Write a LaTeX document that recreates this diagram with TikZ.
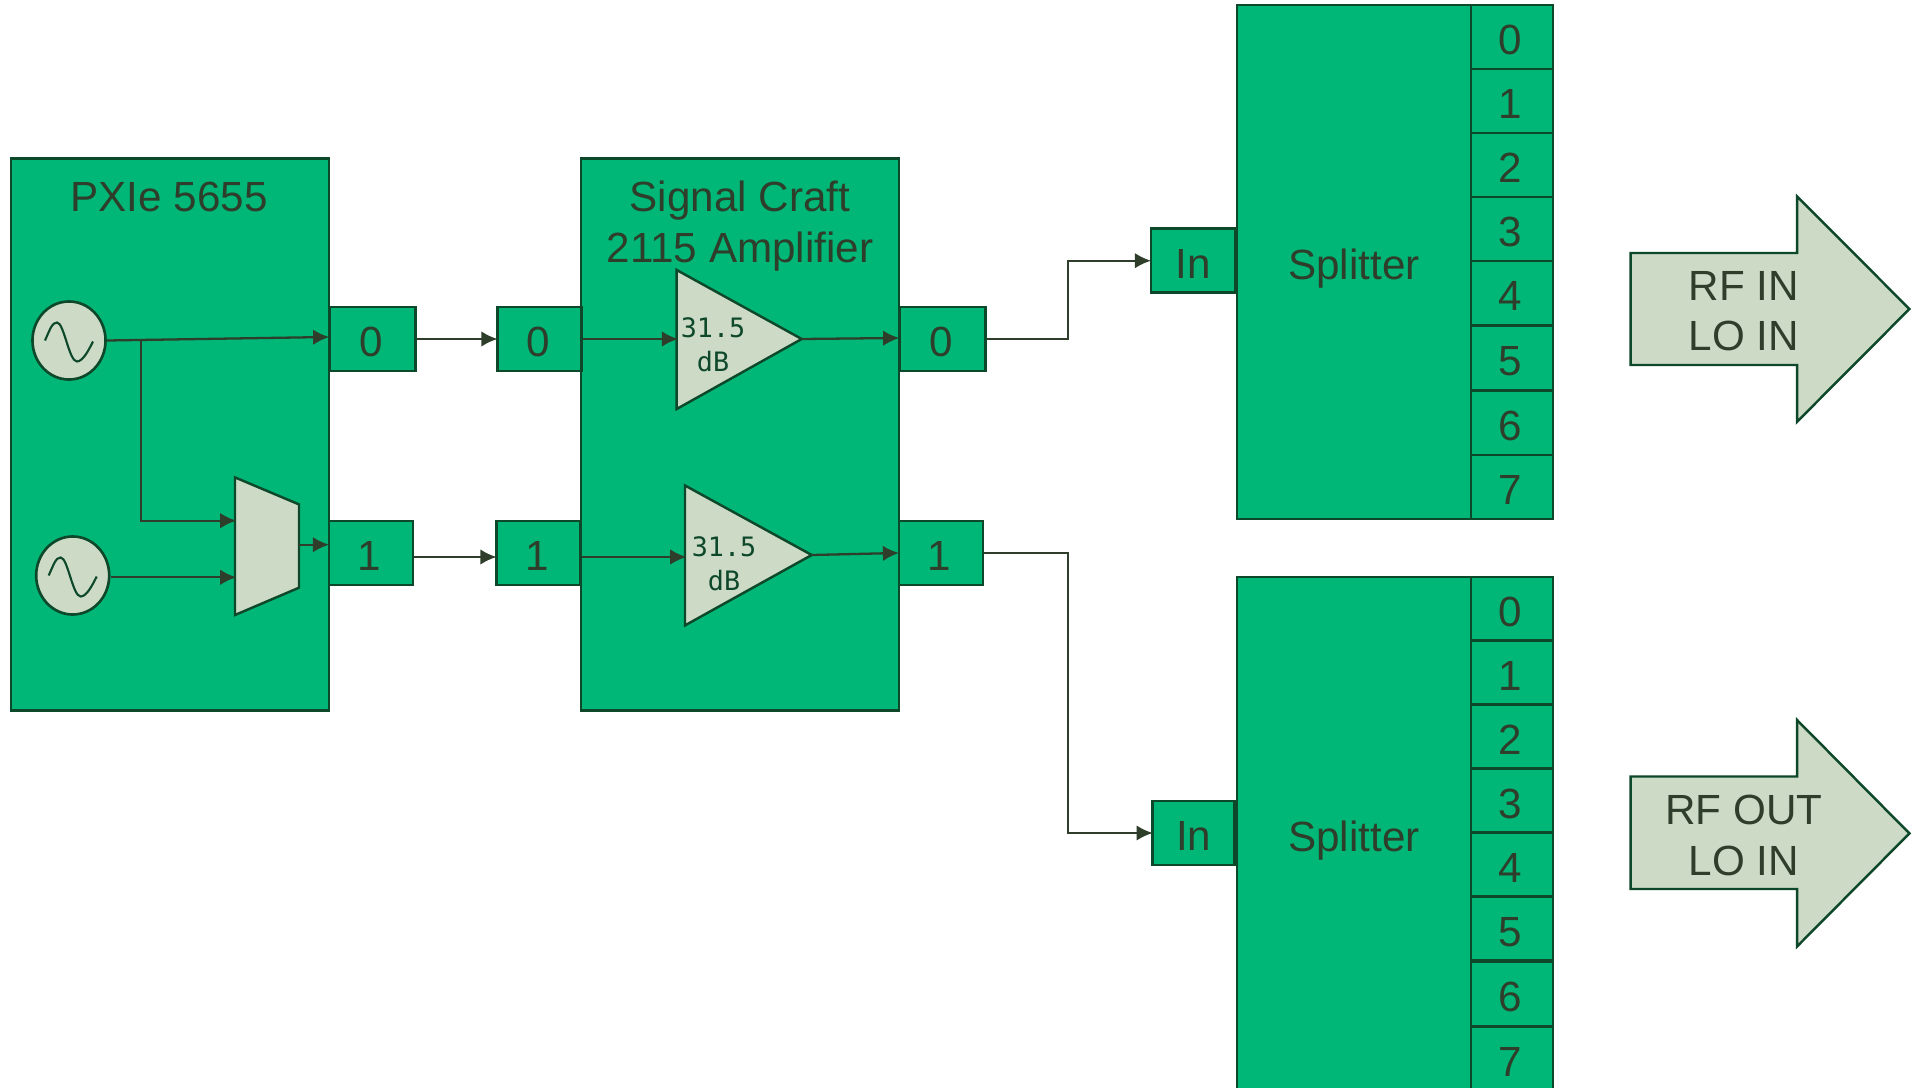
\documentclass[tikz,border=0pt]{standalone}
\usepackage{fontspec}
\setmainfont{Liberation Sans}
\newfontfamily\gainfont{DejaVu Sans Mono}
\usepackage{tikz}
\usetikzlibrary{arrows.meta,shapes.geometric}
\definecolor{blockgreen}{RGB}{0,183,120}
\definecolor{linegreen}{RGB}{14,72,42}
\definecolor{palegreen}{RGB}{204,218,198}
\definecolor{inkgreen}{RGB}{46,62,42}
\tikzstyle{block}=[draw=linegreen,fill=blockgreen,line width=.75pt,text=inkgreen,inner sep=0pt,font=\fontsize{12}{14.3}\selectfont,text height=10.2pt,text depth=0pt]
\tikzstyle{inport}=[block,minimum height=.64cm]
\tikzstyle{port}=[inport,minimum width=.84cm,execute at begin node=\hspace*{-1pt}]
\tikzstyle{rowport}=[port,minimum width=.82cm]
\tikzstyle{osc}=[ellipse,draw=linegreen,fill=palegreen,line width=.75pt,minimum width=.73cm,minimum height=.78cm,inner sep=0pt]
\tikzstyle{pale}=[draw=linegreen,fill=palegreen,line width=.7pt]
\tikzstyle{title}=[text=inkgreen,inner sep=0pt,align=center,font=\fontsize{12}{14.3}\selectfont]
\tikzstyle{gain}=[text=linegreen,inner sep=0pt,align=center,font=\gainfont\fontsize{7.6}{9.8}\selectfont]
\tikzstyle{edge}=[draw=inkgreen,line width=.65pt,shorten >=-.4pt,-{Latex[length=4.6pt,width=4.4pt]}]
\tikzstyle{wave}=[draw=linegreen,line width=.6pt]

\begin{document}
\begin{tikzpicture}[x=0.01cm,y=-0.01cm]
      \useasboundingbox (0,0) rectangle (1921,1088);
      % signal generator
      \node[block,minimum width=3.18cm,minimum height=5.515cm] (pxie) at (170,434.7) {};
      \node[title] (pxietitle) at (169,197) {PXIe 5655};
      \node[port,minimum width=.865cm] (pxiezero) at (372.5,339) {0};
      \node[port] (pxieone) at (371,553) {1};
      \node[osc] (osca) at (69,340.5) {};
      \node[osc] (oscb) at (72.7,575.5) {};
      \draw[wave,shift={(osca.center)}] (-24,0) .. controls (-19,-11) and (-17,-18) .. (-12,-18) .. controls (-5,-18) and (0,21) .. (8,21) .. controls (14,21) and (20,9) .. (24,1);
      \draw[wave,shift={(oscb.center)}] (-24,0) .. controls (-19,-11) and (-17,-18) .. (-12,-18) .. controls (-5,-18) and (0,21) .. (8,21) .. controls (14,21) and (20,9) .. (24,1);
      \coordinate (muxtop) at (235,520.7);
      \coordinate (muxlow) at (235,577.3);
      \coordinate (muxout) at (299,544.7);
      \coordinate (branch) at (141,340.3);
      \draw[pale] (235,477.4) -- (299,504.4) -- (299,587.7) -- (235,615) -- cycle;
      % amplifier
      \node[block,minimum width=3.18cm,minimum height=5.515cm] (amp) at (740,434.7) {};
      \node[title] (amptitle) at (740,226) {Signal Craft\\2115 Amplifier};
      \node[port] (ampinzero) at (539.5,339) {0};
      \node[port] (ampinone) at (538.5,553) {1};
      \node[port,minimum width=.865cm] (ampoutzero) at (942.5,339) {0};
      \node[port] (ampoutone) at (941,553) {1};
      \coordinate (trianglea) at (676.7,339);
      \coordinate (tipa) at (801.7,339);
      \coordinate (triangleb) at (685,557);
      \coordinate (tipb) at (811.7,555);
      \coordinate (linkone) at (455,557);
      \draw[pale] (676.7,270) -- (tipa) -- (676.7,409) -- cycle;
      \draw[pale] (685,485.5) -- (tipb) -- (685,625.4) -- cycle;
      \node[gain] (gaina) at (713,345) {31.5\\dB};
      \node[gain] (gainb) at (724,564) {31.5\\dB};
      % first splitter
      \node[block,minimum width=2.34cm,minimum height=5.14cm] (splita) at (1354,262) {Splitter};
      \node[inport,minimum width=.84cm] (inputa) at (1193,260.7) {In};
      \node[rowport] (splitazero) at (1512,37) {0};
      \node[rowport] (splitaone) at (1512,101) {1};
      \node[rowport] (splitatwo) at (1512,165) {2};
      \node[rowport] (splitathree) at (1512,229) {3};
      \node[rowport] (splitafour) at (1512,293) {4};
      \node[rowport] (splitafive) at (1512,358) {5};
      \node[rowport] (splitasix) at (1512,423) {6};
      \node[rowport] (splitaseven) at (1512,487) {7};
      % second splitter
      \node[block,minimum width=2.34cm,minimum height=5.14cm] (splitb) at (1354,834) {Splitter};
      \node[inport,minimum width=.82cm] (inputb) at (1193.7,833) {In};
      \node[rowport] (splitbzero) at (1512,608.9) {0};
      \node[rowport] (splitbone) at (1512,672.8) {1};
      \node[rowport] (splitbtwo) at (1512,736.8) {2};
      \node[rowport] (splitbthree) at (1512,800.4) {3};
      \node[rowport] (splitbfour) at (1512,864.4) {4};
      \node[rowport] (splitbfive) at (1512,928.7) {5};
      \node[rowport] (splitbsix) at (1512,993.9) {6};
      \node[rowport] (splitbseven) at (1512,1059) {7};
      % block arrows
      \draw[pale] (1630.5,253) -- (1797,253) -- (1797,196.3) -- (1909.4,309) -- (1797,421.8) -- (1797,365) -- (1630.5,365) -- cycle;
      \draw[pale] (1630.5,776.5) -- (1797,776.5) -- (1797,720) -- (1909.4,833.4) -- (1797,946.5) -- (1797,889) -- (1630.5,889) -- cycle;
      \node[title] (rfin) at (1744,311.5) {RF IN\\LO IN};
      \node[title] (rfout) at (1744,835.5) {RF OUT\\LO IN};
      % connections
      \coordinate (benda) at (1068,339);
      \coordinate (bendb) at (1068,553);
      \draw[edge] (osca.east) to ([yshift=.02cm]pxiezero.west);
      \draw[edge] (branch) |- (muxtop);
      \draw[edge] (oscb.east |- muxlow) to (muxlow);
      \draw[edge] (muxout) to (pxieone.west |- muxout);
      \draw[edge] (pxiezero.east) to (ampinzero.west);
      \draw[edge] (pxieone.east |- linkone) to (ampinone.west |- linkone);
      \draw[edge] (ampinzero.east) to (trianglea);
      \draw[edge] (ampinone.east |- linkone) to (triangleb);
      \draw[edge] (tipa) to ([yshift=.01cm]ampoutzero.west);
      \draw[edge] (tipb) to (ampoutone.west);
      \draw[edge] (ampoutzero.east) -- (benda) |- (inputa.west);
      \draw[edge] (ampoutone.east) -- (bendb) |- (inputb.west);
    \end{tikzpicture}
\end{document}
